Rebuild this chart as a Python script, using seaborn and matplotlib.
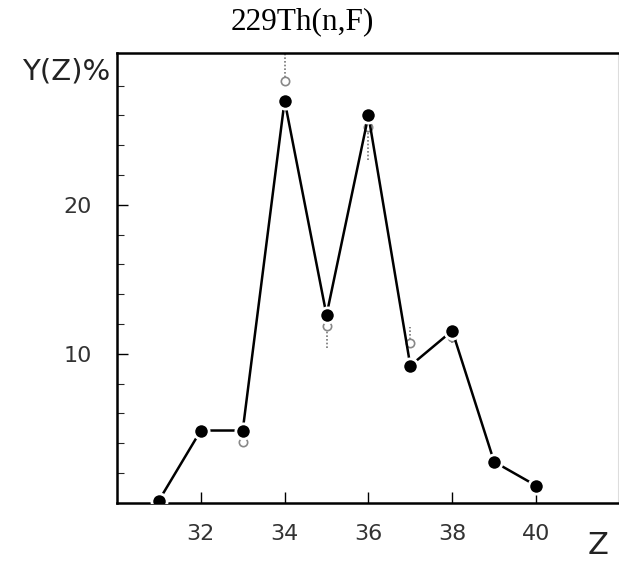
import matplotlib
matplotlib.use("Agg")
import matplotlib.pyplot as plt
import seaborn as sns
import pandas as pd

# element charge Z and yield (%) - filled points, joined by a line
z_vals = [31, 32, 33, 34, 35, 36, 37, 38, 39, 40]
yield_vals = [0.15, 4.85, 4.85, 27.0, 12.6, 26.0, 9.2, 11.55, 2.75, 1.15]

# second set (open circles, dotted error bars)
z_open = [33, 34, 35, 36, 37, 38]
yield_open = [4.1, 28.3, 11.9, 25.2, 10.7, 11.1]
err_lo = [0.3, 0.0, 1.5, 2.2, 0.0, 0.4]
err_hi = [0.0, 2.0, 0.0, 0.0, 1.1, 0.0]

x_ticks = [32, 34, 36, 38, 40]
y_ticks = [10, 20]

df = pd.DataFrame({"Z": z_vals, "Y": yield_vals})

sns.set_style("ticks")
plt.rcParams["text.color"] = "black"
fig = plt.figure(figsize=(6.19, 5.63), dpi=100)
ax = fig.add_axes([0.189, 0.107, 0.809, 0.799])

# dotted error bars for the open set
ax.vlines(z_open, [y - l for y, l in zip(yield_open, err_lo)],
          [y + h for y, h in zip(yield_open, err_hi)],
          colors="#777777", linestyles=(0, (1, 1.2)), linewidth=1.2, zorder=2)
ax.plot(z_open, yield_open, "o", ms=6, mfc="white", mec="#888888", mew=1.2,
        linestyle="none", zorder=3)

sns.lineplot(data=df, x="Z", y="Y", ax=ax, color="black", linewidth=1.8,
             marker="o", markersize=11, markerfacecolor="black",
             markeredgecolor="white", markeredgewidth=2.0, zorder=4)

ax.set_xlim(30, 41.95)
ax.set_ylim(0, 30.2)
ax.set_xticks(x_ticks)
ax.set_yticks(y_ticks)
ax.set_yticks(range(2, 30, 2), minor=True)
ax.tick_params(axis="both", which="major", direction="in", length=8, width=1,
               labelsize=16, colors="black")
ax.tick_params(axis="y", which="major", pad=18)
ax.tick_params(axis="y", which="minor", direction="in", length=5, width=0.8)
ax.tick_params(axis="x", pad=15)
for lbl in ax.get_xticklabels() + ax.get_yticklabels():
    lbl.set_color("#333333")

for s in ["left", "bottom", "top"]:
    ax.spines[s].set_linewidth(1.8)
    ax.spines[s].set_color("black")
ax.spines["right"].set_color("#dddddd")
ax.spines["right"].set_linewidth(0.8)

ax.set_xlabel("")
ax.set_ylabel("")
fig.text(0.178, 0.858, "Y(Z)%", ha="right", va="baseline", fontsize=21,
         color="#222222")
fig.text(0.95, 0.016, "Z", ha="left", va="baseline", fontsize=22,
         color="#222222")
fig.text(0.488, 0.961, "229Th(n,F)", ha="center", va="center", fontsize=22.5,
         family="Liberation Serif", color="black")

fig.savefig("out.png", dpi=100)
